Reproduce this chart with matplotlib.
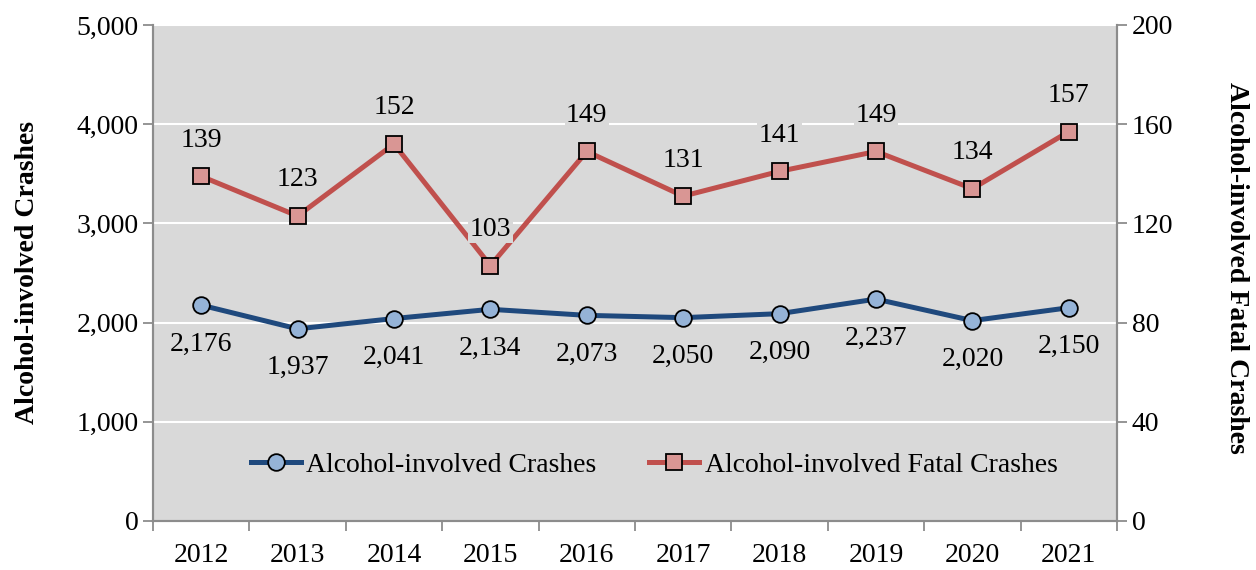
import matplotlib
matplotlib.use("Agg")
import matplotlib.pyplot as plt
from matplotlib.ticker import FuncFormatter, MultipleLocator

years = ['2012', '2013', '2014', '2015', '2016', '2017', '2018', '2019', '2020', '2021']
crashes = [2176, 1937, 2041, 2134, 2073, 2050, 2090, 2237, 2020, 2150]
fatal = [139, 123, 152, 103, 149, 131, 141, 149, 134, 157]

plt.rcParams['font.family'] = ['Liberation Serif', 'DejaVu Serif']

bg = '#d9d9d9'
blue = '#1f497d'
blue_face = '#95b3d7'
red = '#c0504d'
red_face = '#d99694'
spine = '#8c8c8c'
fs = 20

fig = plt.figure(figsize=(12.56, 5.70), dpi=100)
ax = fig.add_axes([153 / 1256, 1 - 521 / 570, 964 / 1256, 496 / 570])
ax2 = ax.twinx()

x = list(range(len(years)))

ax.set_facecolor(bg)
ax.set_ylim(0, 5000)
ax.set_xlim(-0.5, len(years) - 0.5)
ax.yaxis.set_major_locator(MultipleLocator(1000))
ax.yaxis.set_major_formatter(FuncFormatter(lambda v, p: f'{int(v):,}'))
ax.grid(axis='y', color='white', linewidth=1.5)
ax.set_axisbelow(True)

ax2.set_ylim(0, 200)
ax2.yaxis.set_major_locator(MultipleLocator(40))

l1, = ax.plot(x, crashes, color=blue, linewidth=3.6, marker='o', markersize=12,
              markerfacecolor=blue_face, markeredgecolor='black', markeredgewidth=1.3,
              label='Alcohol-involved Crashes', zorder=3)
l2, = ax2.plot(x, fatal, color=red, linewidth=3.6, marker='s', markersize=11.5,
               markerfacecolor=red_face, markeredgecolor='black', markeredgewidth=1.3,
               label='Alcohol-involved Fatal Crashes', zorder=3)

for xi, v in zip(x, crashes):
    ax.annotate(f'{v:,}', (xi, v), xytext=(0, -28), textcoords='offset points',
                ha='center', va='center', fontsize=fs,
                bbox=dict(facecolor=bg, edgecolor='none', pad=1))
for xi, v in zip(x, fatal):
    ax2.annotate(f'{v}', (xi, v), xytext=(0, 26), textcoords='offset points',
                 ha='center', va='center', fontsize=fs,
                 bbox=dict(facecolor=bg, edgecolor='none', pad=1))

# x ticks sit between categories
ax.set_xticks(x)
ax.set_xticklabels(years, fontsize=fs)
ax.set_xticks([i - 0.5 for i in range(len(years) + 1)], minor=True)
ax.tick_params(axis='x', which='major', length=0, pad=16)
ax.tick_params(axis='x', which='minor', length=7, color=spine, width=1.3)
ax.tick_params(axis='y', labelsize=fs, length=7, color=spine, width=1.3)
ax2.tick_params(axis='y', labelsize=fs, length=7, color=spine, width=1.3)

for a in (ax, ax2):
    a.spines['top'].set_visible(False)
    for side in ('left', 'right', 'bottom'):
        a.spines[side].set_color(spine)
        a.spines[side].set_linewidth(1.5)

ax.set_ylabel('Alcohol-involved Crashes', fontsize=20, fontweight='bold')
ax2.set_ylabel('Alcohol-involved Fatal Crashes', fontsize=20, fontweight='bold',
               rotation=270)
ax.yaxis.set_label_coords(-0.13, 0.5)
ax2.yaxis.set_label_coords(1.124, 0.51)
ax.yaxis.label.set_va('center')
ax2.yaxis.label.set_va('center')

ax.legend(handles=[l1, l2], loc='center', bbox_to_anchor=(0.52, 0.113), ncol=2,
          frameon=False, fontsize=fs, handlelength=1.8, handletextpad=0.2,
          columnspacing=1.9)

fig.savefig('out.png', dpi=100)
